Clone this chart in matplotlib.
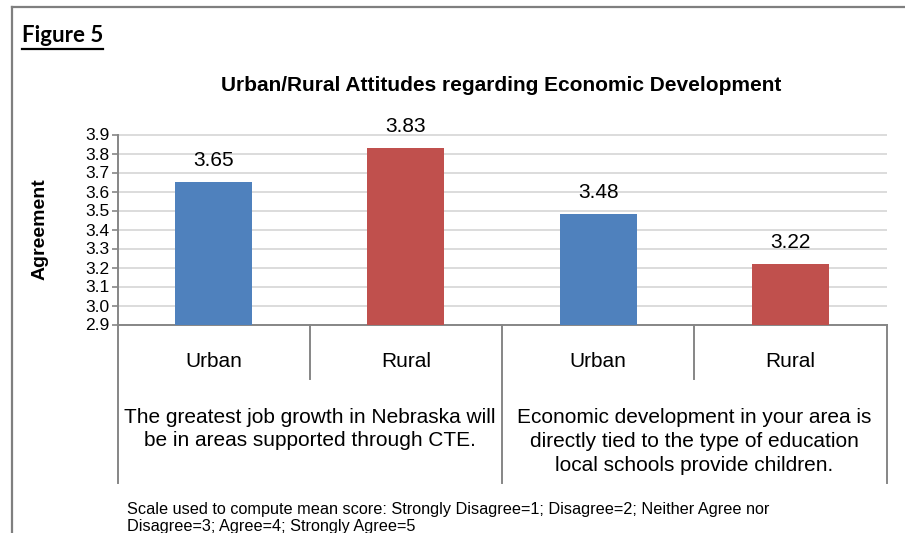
import matplotlib
matplotlib.use("Agg")
import matplotlib.pyplot as plt
from matplotlib.lines import Line2D

# Mean agreement scores per respondent group
groups = ["Urban", "Rural", "Urban", "Rural"]
scores = [3.65, 3.83, 3.48, 3.22]
bar_colors = ["#4F81BD", "#C0504D", "#4F81BD", "#C0504D"]
statements = [
    "The greatest job growth in Nebraska will\nbe in areas supported through CTE.",
    "Economic development in your area is\ndirectly tied to the type of education\nlocal schools provide children.",
]
y_ticks = [2.9, 3.0, 3.1, 3.2, 3.3, 3.4, 3.5, 3.6, 3.7, 3.8, 3.9]
title = "Urban/Rural Attitudes regarding Economic Development"
footnote = ["Scale used to compute mean score: Strongly Disagree=1; Disagree=2; Neither Agree nor",
            "Disagree=3; Agree=4; Strongly Agree=5"]

plt.rcParams["font.family"] = ["Liberation Sans", "DejaVu Sans"]

W, H = 905, 533
fig = plt.figure(figsize=(W / 100, H / 100), dpi=100)
fig.patch.set_facecolor("white")

def fx(px):
    return px / W

def fy(py):
    return 1 - py / H

ax = fig.add_axes([fx(117.5), fy(324.5), fx(886.5) - fx(117.5), (324.5 - 134.5) / H])

axis_gray = "#868686"
grid_gray = "#D9D9D9"

x = list(range(len(scores)))
ax.bar(x, [s - y_ticks[0] for s in scores], bottom=y_ticks[0], width=0.40,
       color=bar_colors, zorder=3)
for xi, s in zip(x, scores):
    ax.annotate(f"{s:.2f}", (xi, s), xytext=(0, 11.5), textcoords="offset points",
                ha="center", va="baseline", fontsize=15)

ax.set_xlim(-0.5, len(scores) - 0.5)
ax.set_ylim(y_ticks[0], y_ticks[-1])
ax.set_yticks(y_ticks)
ax.set_yticklabels([f"{t:.1f}" for t in y_ticks], fontsize=12.5)
ax.set_xticks([])
ax.yaxis.grid(True, color=grid_gray, lw=1.3, zorder=0)
ax.set_axisbelow(True)
for side in ["top", "right"]:
    ax.spines[side].set_visible(False)
for side in ["left", "bottom"]:
    ax.spines[side].set_color(axis_gray)
    ax.spines[side].set_linewidth(1.4)
ax.tick_params(axis="y", length=4, width=1.2, color=axis_gray, pad=2)

# Y-axis title
fig.text(fx(40), fy(229.5), "Agreement", rotation=90, ha="center", va="center",
         fontsize=14, fontweight="bold")

# Category table beneath the axis
trans = ax.get_xaxis_transform()
inner_bottom = -0.287
outer_bottom = -0.834
for xb in [0.5, 2.5]:
    ax.add_line(Line2D([xb, xb], [0, inner_bottom], transform=trans, color=axis_gray,
                       lw=1.4, clip_on=False))
for xb in [-0.5, 1.5, 3.5]:
    ax.add_line(Line2D([xb, xb], [0, outer_bottom], transform=trans, color=axis_gray,
                       lw=1.4, clip_on=False))
for xi, g in zip(x, groups):
    ax.text(xi, -0.197, g, transform=trans, ha="center", va="center", fontsize=15)
ax.text(0.5, -0.55, statements[0], transform=trans, ha="center", va="center",
        fontsize=15, linespacing=1.32)
ax.text(2.5, -0.615, statements[1], transform=trans, ha="center", va="center",
        fontsize=15, linespacing=1.32)

# Chart title
fig.text(fx(501.5), fy(85), title, ha="center", va="center", fontsize=15, fontweight="bold")

# Figure label with underline
lab = fig.text(fx(22), fy(42), "Figure 5", ha="left", va="baseline", fontsize=16,
               fontweight="bold", family=["Lato", "DejaVu Sans"])
fig.canvas.draw()
bb = lab.get_window_extent(renderer=fig.canvas.get_renderer())
fig.add_artist(Line2D([bb.x0 / W, bb.x1 / W], [fy(48.5), fy(48.5)], color="black", lw=1.6,
                      transform=fig.transFigure))

# Footnote
fig.text(fx(127), fy(514), footnote[0], ha="left", va="baseline", fontsize=11.7)
fig.text(fx(127), fy(531), footnote[1], ha="left", va="baseline", fontsize=11.7)

# Page frame
frame_gray = "#7F7F7F"
fig.add_artist(Line2D([fx(12), fx(12)], [fy(7), 0], color=frame_gray, lw=1.6,
                      transform=fig.transFigure))
fig.add_artist(Line2D([fx(12), 1], [fy(7), fy(7)], color=frame_gray, lw=1.6,
                      transform=fig.transFigure))

fig.savefig("out.png", dpi=100, facecolor="white")
